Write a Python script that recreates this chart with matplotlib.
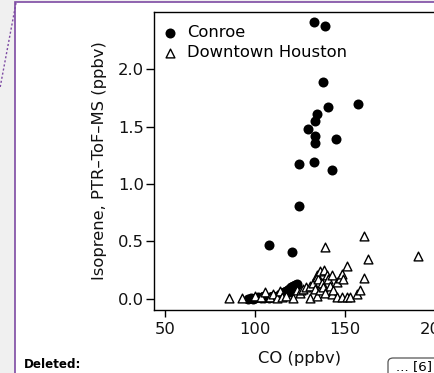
import matplotlib
matplotlib.use("Agg")
import matplotlib.pyplot as plt
from matplotlib.patches import Rectangle, FancyBboxPatch
from matplotlib.lines import Line2D

# Conroe (filled circles): CO in ppbv, isoprene in ppbv
conroe_co = [132.8, 138.7, 137.8, 157.2, 140.6, 134.1, 133.2, 129.1, 133.2, 133.2,
             144.7, 124.1, 132.4, 142.6, 124.1, 107.6, 120.2,
             96, 97.5, 99, 100, 101.5, 103, 104, 105, 106, 107.5, 109, 110, 111,
             112.5, 114, 115, 116, 117, 118, 119, 120, 121, 122, 123, 105, 108,
             116.5, 118.5]
conroe_iso = [2.41, 2.37, 1.89, 1.70, 1.67, 1.61, 1.55, 1.48, 1.42, 1.36,
              1.39, 1.17, 1.19, 1.12, 0.81, 0.47, 0.41,
              0.00, 0.01, 0.00, 0.01, 0.02, 0.01, 0.02, 0.03, 0.02, 0.01, 0.02, 0.03, 0.02,
              0.03, 0.04, 0.05, 0.06, 0.07, 0.08, 0.09, 0.10, 0.11, 0.12, 0.13, 0.01, 0.015,
              0.04, 0.06]

# Downtown Houston (open triangles)
houston_co = [85.6, 92.4, 99.8, 103, 105.4, 108, 110, 112, 113.7, 115,
              117, 120.8, 123, 125, 125.2, 126.7, 128.2, 130.4, 130.4, 132.2,
              133.2, 134.1, 134.1, 134.1, 135, 136, 136, 136.9, 137.8, 138.2,
              138.7, 138.7, 139.7, 140.6, 141.5, 142.4, 142.4, 143.3, 145.2, 145.2,
              147, 148, 148, 148.9, 150.8, 150.8, 152.6, 156.3, 158.3, 160.4,
              160.6, 162.4, 190.2]
houston_iso = [0.005, 0.01, 0.03, 0.02, 0.06, 0.02, 0.04, 0.01, 0.07, 0.02,
               0.03, 0.005, 0.08, 0.05, 0.08, 0.09, 0.10, 0.01, 0.11, 0.14,
               0.09, 0.03, 0.21, 0.19, 0.17, 0.24, 0.08, 0.14, 0.10, 0.25,
               0.45, 0.05, 0.21, 0.17, 0.11, 0.21, 0.04, 0.08, 0.015, 0.15,
               0.18, 0.015, 0.22, 0.17, 0.015, 0.29, 0.015, 0.04, 0.08, 0.55,
               0.18, 0.35, 0.37]

x_ticks = [50, 100, 150, 200]
y_ticks = [0.0, 0.5, 1.0, 1.5, 2.0]
y_ticklabels = ["0.0", "0.5", "1.0", "1.5", "2.0"]

W, H = 435, 373
purple = "#7d4aa3"
FS = 11.8

fig = plt.figure(figsize=(W / 100, H / 100), dpi=100)
fig.patch.set_facecolor("#f0f0f0")

# page area with the markup border
page = Rectangle((15 / W, -0.2), 1.0, 1.2 - 1.5 / H, transform=fig.transFigure,
                 facecolor="white", edgecolor=purple, lw=1.2, zorder=-5)
fig.add_artist(page)
fig.add_artist(Line2D([16 / W, 0], [1 - 3 / H, 1 - 88 / H], transform=fig.transFigure,
                      color=purple, ls=(0, (1.5, 1.5)), lw=1.0, zorder=-4))

ax = fig.add_axes([154.5 / W, 63 / H, 291.6 / W, 298 / H])
ax.set_facecolor("none")

ax.scatter(conroe_co, conroe_iso, s=52, marker="o", color="black", lw=0,
           label="Conroe", zorder=2)
ax.scatter(houston_co, houston_iso, s=40, marker="^", facecolor="white",
           edgecolor="black", lw=1.0, label="Downtown Houston", zorder=3)

ax.set_xlim(44, 206)
ax.set_ylim(-0.096, 2.496)
ax.set_xticks(x_ticks)
ax.set_yticks(y_ticks)
ax.set_yticklabels(y_ticklabels)
for lab in ax.get_xticklabels() + ax.get_yticklabels():
    lab.set_family("DejaVu Sans")
    lab.set_fontsize(FS)
    lab.set_color("#111111")
ax.tick_params(axis="x", length=5, width=1, pad=4)
ax.tick_params(axis="y", length=6, width=1, pad=1.5)
for side in ["left", "bottom", "top"]:
    ax.spines[side].set_linewidth(1.0)
ax.spines["right"].set_visible(False)

leg = ax.legend(loc="upper left", bbox_to_anchor=(0.03, 0.955), frameon=False,
                borderaxespad=0, borderpad=0, handlelength=0.85,
                handletextpad=0.6, labelspacing=0.28,
                prop={"family": "DejaVu Sans", "size": FS})

fig.text(100 / W, 1 - 161 / H, "Isoprene, PTR\u2013ToF\u2013MS (ppbv)", rotation=90,
         ha="center", va="center", family="DejaVu Sans", fontsize=FS, color="#111111")
fig.text(300 / W, 1 - 358 / H, "CO (ppbv)", ha="center", va="center",
         family="DejaVu Sans", fontsize=FS, color="#111111")

fig.text(24 / W, 1 - 364.5 / H, "Deleted:", ha="left", va="center",
         family="DejaVu Sans", fontweight="bold", fontsize=8.6)
box = FancyBboxPatch((388 / W, -0.05), 60 / W, (0.05 * H + 373 - 358) / H,
                     boxstyle="round,pad=0,rounding_size=0.012",
                     transform=fig.transFigure, facecolor="white",
                     edgecolor="#555555", lw=0.9, zorder=-3)
fig.add_artist(box)
fig.text(396 / W, 1 - 367 / H, "... [6]", ha="left", va="center",
         family="DejaVu Sans", fontsize=9.6)

fig.savefig("out.png", dpi=100)
